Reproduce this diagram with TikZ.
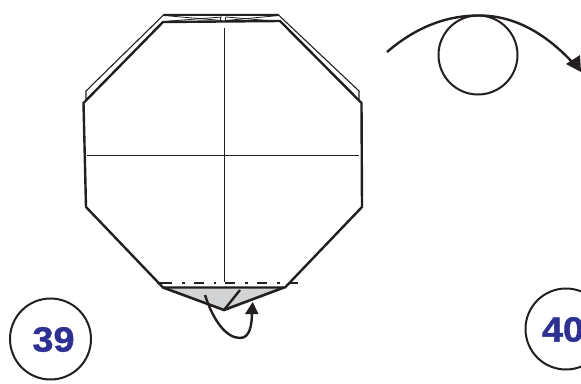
\documentclass[tikz,border=0pt]{standalone}
\usepackage{fontspec}
\setmainfont{Liberation Sans}
\newfontfamily\numfont[FakeBold=1.2,FakeStretch=1.08]{Liberation Sans Bold}
\definecolor{ink}{RGB}{35,31,32}
\definecolor{numblue}{RGB}{46,49,146}
\definecolor{flapgrey}{RGB}{209,211,212}
\tikzset{
  thickedge/.style={draw=ink,line width=2.4pt,line join=miter},
  thinedge/.style={draw=ink,line width=1.1pt},
  hair/.style={draw=ink,line width=0.8pt},
  foldarrow/.style={draw=ink,line width=2.4pt},
  head/.style={fill=ink,draw=none},
  numring/.style={circle,draw=ink,line width=2pt,minimum size=81pt,inner sep=0pt},
  numtext/.style={text=numblue,font=\fontsize{35}{35}\numfont,inner sep=0pt}
}
\begin{document}
\begin{tikzpicture}[x=1pt,y=-1pt]
\useasboundingbox (0,0) rectangle (581,383);
\path[fill=white] (0,0) rectangle (581,383);
% back flap
\draw[thinedge] (86,100) -- (86,91) -- (164,14.5) -- (278,14.5) -- (359,91) -- (359,100);
\draw[draw=ink,line width=2pt] (164,14.5) -- (278,14.5);
% X creases in top band
\draw[hair] (164,15.5) -- (222,20.5);
\draw[hair] (164,21.5) -- (222,17);
\draw[hair] (279,15.5) -- (226,20.5);
\draw[hair] (279,21.5) -- (226,17);
\draw[hair] (220.5,17) -- (220.5,21);
\draw[hair] (225.5,17) -- (225.5,21);
% grey flap
\path[fill=flapgrey] (165,287) -- (224,310) -- (283,287) -- cycle;
% octagon
\draw[thickedge] (163,22) -- (280,21) -- (361.5,103) -- (362,207) -- (285,287.5) -- (163,287.5) -- (86,207) -- (83.5,103) -- cycle;
% flap bottom
\draw[thickedge,line width=2.6pt] (163,287.5) -- (224,310) -- (284,287.5);
\draw[thickedge] (224,310) -- (240,290);
% centre creases
\draw[thinedge] (224.5,28) -- (224.5,282);
\draw[thinedge] (87,155.5) -- (359,155.5);
% valley/mountain line
\draw[draw=ink,line width=2pt] (157,283.2) -- (163,283.2);
\draw[draw=ink,line width=2pt,dash pattern=on 10pt off 10pt on 2.5pt off 9.2pt] (162,283.2) -- (298,283.2);
% small arrow
\draw[foldarrow] (205,295) .. controls (213,320) and (226,338) .. (240,338) .. controls (250,338) and (252,325) .. (252,311);
\path[head] (252.7,302) -- (258.5,314) -- (245,314) -- cycle;
% big arrow
\draw[draw=ink,line width=2pt] (478,55) circle[radius=39.5];
\draw[foldarrow] (387,52) .. controls (415,28) and (445,15.5) .. (479,15.5) .. controls (517,15.5) and (548,36) .. (573,63);
\path[head] (581,72) -- (566,64) -- (580,55) -- cycle;
% numbers
\node[numring] (ring39) at (50.5,339) {};
\node[numtext] (num39) at (53.5,339.5) {39};
\node[numring] (ring40) at (566,329) {};
\node[numtext] (num40) at (563,329.5) {40};
\end{tikzpicture}
\end{document}
